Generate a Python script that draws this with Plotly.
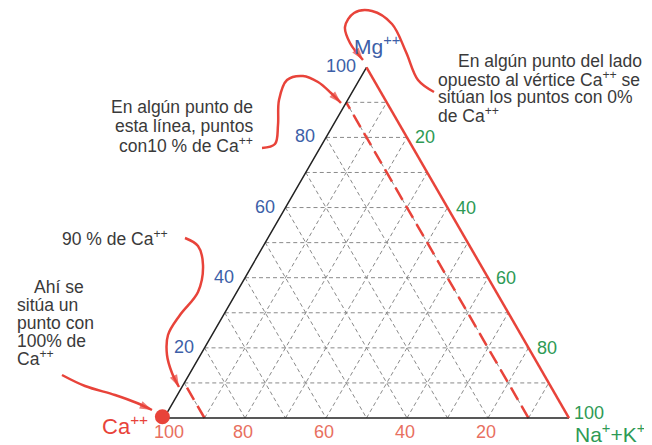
import numpy as np
import plotly.graph_objects as go

# ternary percentages (Ca, Mg, Na+K) -- every grid step
grid_levels = [10, 20, 30, 40, 50, 60, 70, 80, 90]
mg_ticks = [20, 40, 60, 80, 100]      # left side, blue
nak_ticks = [20, 40, 60, 80, 100]     # right side, green
ca_ticks = [100, 80, 60, 40, 20]      # bottom, red
ca_marked = [10, 90]                  # red dashed lines of constant Ca
ca_point = [100, 0, 0]                # point with 100 % Ca

# page has an 8px body margin, so the figure is a bit smaller and shifted
OFF = 8
W, H = 652 - OFF, 445 - OFF
# pixel placement of the triangle inside the figure (Ca vertex x, base y, px per percent)
X0, Y0, S = 164 - OFF, 418 - OFF, 4.05
R3 = np.sqrt(3) / 2


def tern(ca, mg, nak):
    return nak + mg / 2, mg * R3


def px(xp, yp):
    # page pixel -> data units, used for the notes and arrows
    return (xp - OFF - X0) / S, (Y0 - (yp - OFF)) / S


RED = "#e8433a"
BLUE = "#3d5fa8"
GREEN = "#2e9a55"
SALMON = "#e8705f"
TXT = "#3a3a3a"
FONT = "Liberation Sans, Arial, sans-serif"

fig = go.Figure()

# dashed grey grid
gx, gy = [], []
for v in grid_levels:
    for a, b in [((100 - v, v, 0), (0, v, 100 - v)),
                 ((v, 100 - v, 0), (v, 0, 100 - v)),
                 ((100 - v, 0, v), (0, 100 - v, v))]:
        x1, y1 = tern(*a)
        x2, y2 = tern(*b)
        gx += [x1, x2, None]
        gy += [y1, y2, None]
fig.add_trace(go.Scatter(x=gx, y=gy, mode="lines", hoverinfo="skip",
                         line=dict(color="#8a8a8a", width=1, dash="4px,3px")))

# red dashed constant-Ca lines
for v in ca_marked:
    x1, y1 = tern(v, 0, 100 - v)
    x2, y2 = tern(v, 100 - v, 0)
    fig.add_trace(go.Scatter(x=[x1, x2], y=[y1, y2], mode="lines",
                             line=dict(color=RED, width=2.5, dash="14px,7px")))

# triangle edges
ca_v, mg_v, nk_v = tern(100, 0, 0), tern(0, 100, 0), tern(0, 0, 100)
fig.add_trace(go.Scatter(x=[mg_v[0], ca_v[0], nk_v[0]], y=[mg_v[1], ca_v[1], nk_v[1]],
                         mode="lines", line=dict(color="#222222", width=1.5)))
fig.add_trace(go.Scatter(x=[mg_v[0], nk_v[0]], y=[mg_v[1], nk_v[1]],
                         mode="lines", line=dict(color=RED, width=2.5)))

# curved arrows (page pixels)
arrows = [
    [(434, 92), (418, 80), (406, 52), (392, 24), (372, 11), (354, 13), (345, 27), (350, 43), (363, 60)],
    [(262, 148), (275, 144), (278, 125), (279, 100), (287, 80), (303, 76), (318, 82), (331, 93), (341, 103)],
    [(185, 238), (198, 246), (203, 265), (198, 292), (180, 315), (168, 335), (167, 355), (172, 373), (179, 387)],
    [(62, 375), (85, 386), (115, 395), (137, 403), (152, 410)],
]
for path in arrows:
    xs, ys = zip(*[px(*p) for p in path])
    sizes = [0] * (len(xs) - 1) + [13]
    fig.add_trace(go.Scatter(x=xs, y=ys, mode="lines+markers",
                             line=dict(color=RED, width=2.5, shape="spline", smoothing=1),
                             marker=dict(symbol="arrow", angleref="previous", size=sizes,
                                         color=RED, line=dict(width=0))))

# 100 % Ca point
cx, cy = tern(*ca_point)
fig.add_trace(go.Scatter(x=[cx - 0.4], y=[cy + 0.3], mode="markers",
                         marker=dict(size=15, color=RED)))

ann = []
for v in mg_ticks:
    x, y = tern(100 - v, v, 0)
    ann.append(dict(x=x, y=y, text=str(v), xanchor="right", yanchor="middle",
                    xshift=-9, yshift=1, font=dict(color=BLUE, size=18)))
for v in nak_ticks:
    x, y = tern(0, 100 - v, v)
    ann.append(dict(x=x, y=y, text=str(v), xanchor="left", yanchor="middle",
                    xshift=6 if v < 100 else 3, yshift=0 if v < 100 else 5,
                    font=dict(color=GREEN, size=18)))
for v in ca_ticks:
    x, y = tern(v, 0, 100 - v)
    ann.append(dict(x=x, y=y, text=str(v), xanchor="center", yanchor="middle",
                    xshift=5 if v == 100 else -2, yshift=-14,
                    font=dict(color=SALMON, size=18)))

# vertex names
for xp, yp, t, c, anchor, sz in [
        (352, 45, "Mg<sup>++</sup>", BLUE, "left", 21),
        (150, 425, "Ca<sup>++</sup>", RED, "right", 22),
        (573, 433, "Na<sup>+</sup>+K<sup>+</sup>", GREEN, "left", 21)]:
    x, y = px(xp, yp)
    ann.append(dict(x=x, y=y, text=t, xanchor=anchor, yanchor="middle",
                    font=dict(color=c, size=sz)))

# explanatory notes, one line each
notes = [
    (456, 61, "En algún punto del lado", "left"),
    (436, 79, "opuesto al vértice Ca<sup>++</sup> se", "left"),
    (436, 97, "sitúan los puntos con 0%", "left"),
    (436, 115, "de Ca<sup>++</sup>", "left"),
    (255, 107, "En algún punto de", "right"),
    (255, 126, "esta línea, puntos", "right"),
    (255, 145, "con10 % de Ca<sup>++</sup>", "right"),
    (60, 238, "90 % de Ca<sup>++</sup>", "left"),
    (32, 287, "Ahí se", "left"),
    (15, 305, "sitúa un", "left"),
    (15, 323, "punto con", "left"),
    (15, 341, "100% de", "left"),
    (15, 358, "Ca<sup>++</sup>", "left"),
]
for xp, yp, t, anchor in notes:
    x, y = px(xp, yp)
    ann.append(dict(x=x, y=y, text=t, xanchor=anchor, yanchor="middle",
                    font=dict(color=TXT, size=17.5)))

for a in ann:
    a.update(showarrow=False, xref="x", yref="y")

fig.update_layout(
    width=W, height=H, margin=dict(l=0, r=0, t=0, b=0),
    paper_bgcolor="white", plot_bgcolor="white", showlegend=False,
    font=dict(family=FONT),
    xaxis=dict(range=[-X0 / S, (W - X0) / S], visible=False),
    yaxis=dict(range=[-(H - Y0) / S, Y0 / S], visible=False),
    annotations=ann,
)

fig.write_html("out.html")
